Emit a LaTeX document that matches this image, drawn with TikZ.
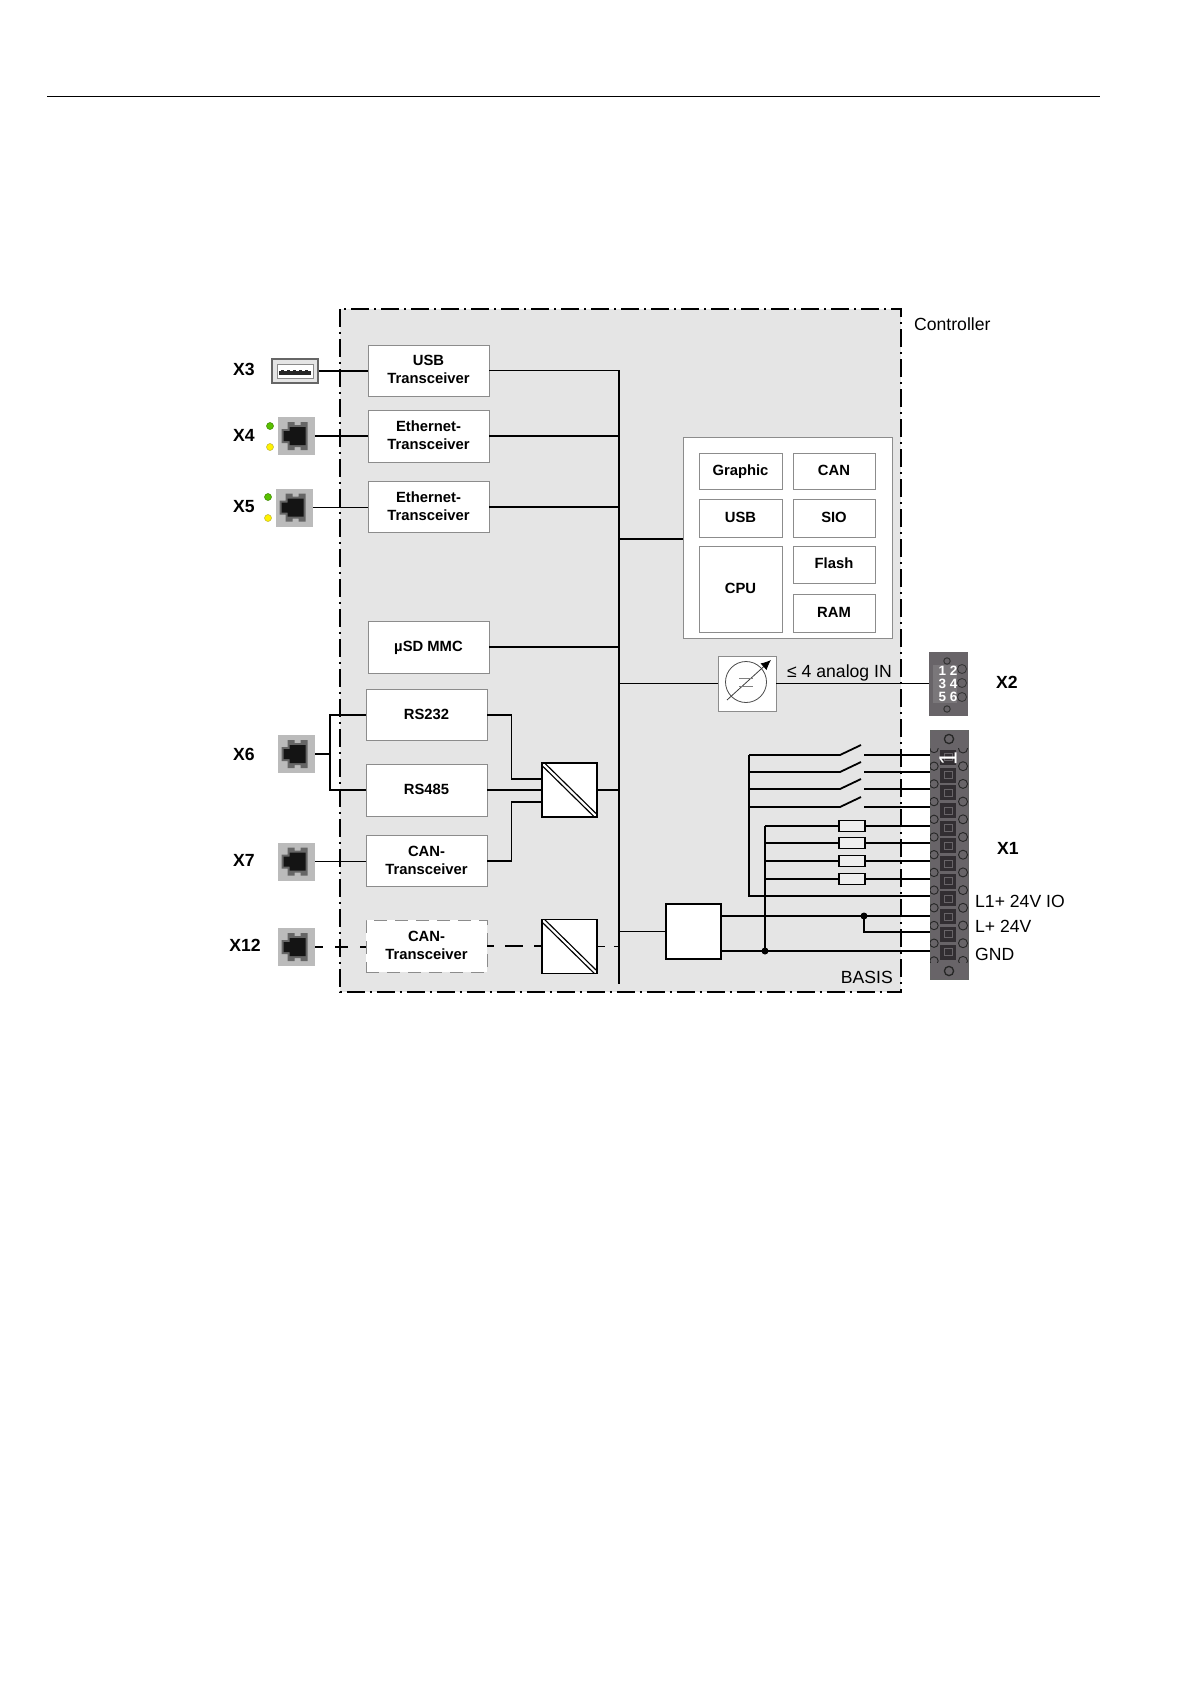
\documentclass[tikz,border=0pt]{standalone}
\usepackage{fontspec}
\setmainfont{Liberation Sans}
\usetikzlibrary{arrows.meta}
\definecolor{panel}{HTML}{E5E5E5}
\definecolor{edge}{HTML}{8C8C8C}
\definecolor{rjgray}{HTML}{BBBBBB}
\definecolor{plugedge}{HTML}{666666}
\definecolor{body}{HTML}{686468}
\definecolor{cell}{HTML}{322E32}
\newcommand{\bxfont}{\fontsize{14.8}{18}\selectfont\bfseries}
\newcommand{\lblfont}{\fontsize{17.6}{20}\selectfont\bfseries}
\newcommand{\txtfont}{\fontsize{17.6}{20}\selectfont}
\newcommand{\rjplug}[1]{%
  \begin{scope}[shift={(#1.center)}]
    \fill[plugedge]
      (-15,-7)--(-9,-7)--(-9,-14)--(-2,-14)--(-2,-11)--(4,-11)--(4,-14)--(11,-14)
      --(11,14)--(4,14)--(4,11)--(-2,11)--(-2,14)--(-9,14)--(-9,7)--(-15,7)--cycle;
    \fill[black!92]
      (-13,-5)--(-7,-5)--(-7,-9)--(9,-9)--(9,9)--(-7,9)--(-7,5)--(-13,5)--cycle;
  \end{scope}}
\tikzset{
  wire/.style={draw=black,line width=1.8pt},
  dwire/.style={draw=black,line width=1.6pt},
  bx/.style={draw=edge,fill=white,line width=0.9pt,inner sep=0pt,align=center,font=\bxfont},
  onel/.style={bx,text height=10.6pt,text depth=2.6pt},
  twol/.style={bx,text height=29pt,text depth=2.6pt},
  dbx/.style={twol,dash pattern=on 13pt off 8pt,draw=edge},
  conv/.style={draw=black,fill=white,line width=1.6pt,inner sep=0pt,minimum width=55pt,minimum height=54pt,
    path picture={\draw[black,line width=1.3pt,double=white,double distance=2.2pt]
      (path picture bounding box.north west) -- (path picture bounding box.south east);}},
  rj/.style={fill=rjgray,inner sep=0pt,minimum width=37pt,minimum height=38pt},
  lbl/.style={inner sep=0pt,font=\lblfont},
  txt/.style={inner sep=0pt,font=\txtfont},
  led/.style={circle,inner sep=0pt,minimum size=7pt,draw=#1!70!black,fill=#1,line width=0.5pt},
  fuse/.style={draw=black,fill=panel!60!white,line width=1.3pt,inner sep=0pt,minimum width=26pt,minimum height=11pt},
  jdot/.style={circle,fill=black,inner sep=0pt,minimum size=7pt},
}
\begin{document}
\begin{tikzpicture}[x=1pt,y=-1pt]
\useasboundingbox (0,0) rectangle (1191,1684);
\fill[white] (0,0) rectangle (1191,1684);
\coordinate (ruleL) at (47,96);
\coordinate (ruleR) at (1100,96);
\draw[black,line width=1pt] (ruleL) -- (ruleR);

% panel
\fill[panel] (339.5,309) rectangle (901,992);

% bus
\coordinate (bus) at (619,370);
\coordinate (busend) at (619,984);
\draw[wire] (bus) -- (busend);

% left column boxes
\node[twol,minimum width=121pt,minimum height=51pt] (usb) at (428.5,370.5) {USB\\Transceiver};
\node[twol,minimum width=121pt,minimum height=52pt] (eth1) at (428.5,436) {Ethernet-\\Transceiver};
\node[twol,minimum width=121pt,minimum height=51pt] (eth2) at (428.5,507) {Ethernet-\\Transceiver};
\node[onel,minimum width=121pt,minimum height=52pt] (sd) at (428.5,647) {µSD MMC};
\node[onel,minimum width=121pt,minimum height=51pt] (rs232) at (426.5,715) {RS232};
\node[onel,minimum width=121pt,minimum height=52pt] (rs485) at (426.5,790) {RS485};
\node[twol,minimum width=121pt,minimum height=51pt] (can) at (426.5,861) {CAN-\\Transceiver};
\node[dbx,minimum width=121pt,minimum height=52pt] (can2) at (426.5,946) {CAN-\\Transceiver};
\node[conv] (conv1) at (569.5,790) {};
\node[conv] (conv2) at (569.5,946.5) {};

% connector bodies left
\node[draw=plugedge,fill=panel,line width=2pt,inner sep=0pt,minimum width=46pt,minimum height=24pt] (x3) at (295,371) {};
\fill[white,draw=edge,line width=0.6pt] (277,364) rectangle (313,378);
\fill[black!85] (279,370.5) rectangle (311,374.5);
\foreach \xx in {281,287,293,299,305} {\fill[black!85] (\xx,369.5) rectangle ++(3,1.5);}
\node[rj] (x4) at (296.5,436) {}; \rjplug{x4}
\node[rj] (x5) at (294.5,507.5) {}; \rjplug{x5}
\node[rj] (x6) at (296.5,754) {}; \rjplug{x6}
\node[rj] (x7) at (296.5,861.5) {}; \rjplug{x7}
\node[rj] (x12) at (296.5,947) {}; \rjplug{x12}
\node[led=green!45!olive!90!yellow] (l1) at (270,426) {};
\node[led=yellow] (l2) at (270,447) {};
\node[led=green!45!olive!90!yellow] (l3) at (268,497) {};
\node[led=yellow] (l4) at (268,518) {};

% wires left
\draw[wire] (x3.east) -- (x3.east -| usb.west);
\draw[wire] (x4.east) -- (eth1.west);
\draw[wire] (x5.east) -- (x5.east -| eth2.west);
\coordinate (x6j) at (330,754);
\draw[wire] (x6.east) -- (x6j);
\draw[wire,line width=1.5pt] (rs232.west) -| (x6j) |- (rs485.west);
\draw[wire] (x7.east) -- (x7.east -| can.west);
\draw[dwire,dash pattern=on 13pt off 12pt,dash phase=5pt] (x12.east) -- (x12.east -| can2.west);
\draw[dwire,dash pattern=on 18pt off 11pt,dash phase=11pt] (can2.east) -- (can2.east -| conv2.west);
\draw[dwire,dash pattern=on 7pt off 9pt] (conv2.east) -- (conv2.east -| bus);

\draw[wire] (usb.east) -- (usb.east -| bus);
\draw[wire] (eth1.east) -- (eth1.east -| bus);
\draw[wire] (eth2.east) -- (eth2.east -| bus);
\draw[wire] (sd.east) -- (sd.east -| bus);
\coordinate (c1a) at (542,779);
\coordinate (c1c) at (542,802);
\draw[wire] (rs232.east) -- ++(24,0) |- (c1a);
\draw[wire] (rs485.east) -- (rs485.east -| conv1.west);
\draw[wire] (can.east) -- ++(24,0) |- (c1c);
\draw[wire] (conv1.east) -- (conv1.east -| bus);

% CPU block
\node[bx,minimum width=209pt,minimum height=201pt] (cpuframe) at (787.5,537.5) {};
\node[onel,minimum width=83pt,minimum height=36pt] (graphic) at (740.5,471) {Graphic};
\node[onel,minimum width=82pt,minimum height=36pt] (cancore) at (834,471) {CAN};
\node[onel,minimum width=83pt,minimum height=38pt] (usbcore) at (740.5,518) {USB};
\node[onel,minimum width=82pt,minimum height=38pt] (sio) at (834,518) {SIO};
\node[onel,minimum width=83pt,minimum height=86pt] (cpu) at (740.5,589) {CPU};
\node[onel,minimum width=82pt,minimum height=37pt] (flash) at (834,564.5) {Flash};
\node[onel,minimum width=82pt,minimum height=38pt] (ram) at (834,613) {RAM};
\coordinate (cpulink) at (683,539);
\draw[wire] (bus |- cpulink) -- (cpulink);

% analog
\node[bx,minimum width=58pt,minimum height=55pt] (analog) at (747,683.5) {};
\node[circle,draw=black!70,line width=0.8pt,inner sep=0pt,minimum size=41pt] (acirc) at (746,682) {};
\coordinate (aA) at (727,700);
\coordinate (aB) at (771,660);
\draw[black!75,line width=0.8pt,-{Latex[length=10pt,width=9pt,black]}] (aA) -- (aB);
\draw[black!50,line width=1pt] (739,678) -- (753,678) (739,686) -- (753,686);
\node[txt,anchor=west] (anaText) at (787,673) {≤ 4 analog IN};

% connector X2
\node[fill=body,inner sep=0pt,minimum width=39pt,minimum height=64pt] (x2) at (948.5,684) {};
\fill[body!88!white] (933,665) rectangle (957,703);
\foreach \yy in {669,683,697} {\draw[black!80,fill=body,line width=0.8pt] (962,\yy) circle (4.5);}
\draw[black!80,line width=1pt] (947,661) circle (3.2) (947,709) circle (3.2);
\node[inner sep=0pt,text=white,font=\fontsize{13.5}{15}\selectfont\bfseries] (p12) at (948,671) {1 2};
\node[inner sep=0pt,text=white,font=\fontsize{13.5}{15}\selectfont\bfseries] (p34) at (948,684) {3 4};
\node[inner sep=0pt,text=white,font=\fontsize{13.5}{15}\selectfont\bfseries] (p56) at (948,697) {5 6};
\draw[wire] (bus |- analog.west) -- (analog.west);
\draw[wire] (analog.east) -- (analog.east -| x2.west);

% connector X1
\node[fill=body,draw=black!60,line width=0.6pt,inner sep=0pt,minimum width=38pt,minimum height=249pt] (x1) at (949,854.5) {};
\begin{scope}
  \clip (930,748) rectangle (968,962);
  \foreach \k in {0,...,12} {
    \pgfmathsetmacro{\yy}{748.5+\k*17.7}
    \draw[black!85,line width=0.9pt] (934,\yy) circle (4.2);
    \draw[black!85,line width=0.9pt] (963,\yy) circle (4.5);
  }
\end{scope}
\foreach \k in {0,...,11} {
  \pgfmathsetmacro{\yy}{757.3+\k*17.7}
  \fill[cell] (940,{\yy-7.5}) rectangle (956,{\yy+7.5});
  \draw[body,line width=0.8pt] (944,{\yy-3.5}) rectangle (952,{\yy+3.5});
}
\draw[black!85,line width=1.3pt] (949,739) circle (4.6) (949,971) circle (4.6);
\node[inner sep=0pt,text=white,rotate=90,font=\fontsize{25}{25}\selectfont] (pin1) at (948,759) {1};

% power
\node[draw=black,fill=white,line width=1.6pt,inner sep=0pt,minimum width=55pt,minimum height=55pt] (pwr) at (693.5,931.5) {};
\draw[wire] (bus |- pwr.west) -- (pwr.west);
\coordinate (pL) at (721,916);
\coordinate (pR) at (721,951);
\node[jdot] (dotA) at (864,916) {};
\node[jdot] (dotB) at (765,951) {};
\coordinate (tL) at (930,916);
\coordinate (tLb) at (930,932);
\coordinate (tG) at (930,951);
\draw[wire] (pL) -- (tL);
\draw[wire] (pR) -- (tG);
\draw[wire] (dotA.center) |- (tLb);

% switches
\coordinate (swTop) at (749,755);
\coordinate (swBot) at (749,896);
\coordinate (tIO) at (930,896);
\draw[wire] (swTop) -- (swBot) -- (tIO);
\foreach \yy in {755,772,789,807} {
  \coordinate (sa) at (749,\yy);
  \coordinate (sb) at (840,\yy);
  \coordinate (sc) at (861,{\yy-10});
  \coordinate (sd2) at (864,\yy);
  \coordinate (se) at (930,\yy);
  \draw[wire] (sa) -- (sb) -- (sc);
  \draw[wire] (sd2) -- (se);
}
% fuses
\coordinate (fTop) at (765,826);
\draw[wire] (dotB.center) -- (fTop);
\foreach \yy [count=\i] in {826,843,861,879} {
  \node[fuse] (fu\i) at (852,\yy) {};
  \coordinate (fl\i) at (765,\yy);
  \coordinate (fr\i) at (930,\yy);
  \draw[wire] (fl\i) -- (fu\i.west);
  \draw[wire] (fu\i.east) -- (fr\i);
}

% controller border
\draw[black,line width=2pt,dash pattern=on 18pt off 5pt on 2pt off 5pt]
  (339.5,309) rectangle (901,992);

% labels
\node[lbl] (tx3) at (244,369) {X3};
\node[lbl] (tx4) at (244,435) {X4};
\node[lbl] (tx5) at (244,507) {X5};
\node[lbl] (tx6) at (244,754) {X6};
\node[lbl] (tx7) at (244,860) {X7};
\node[lbl] (tx12) at (245,945) {X12};
\node[lbl] (tx2) at (1007,682) {X2};
\node[lbl] (tx1) at (1008,848) {X1};
\node[txt,anchor=west] (tctrl) at (914,324) {Controller};
\node[txt,anchor=west] (tl1) at (975,901) {L1+ 24V IO};
\node[txt,anchor=west] (tl2) at (975,926) {L+ 24V};
\node[txt,anchor=west] (tgnd) at (975,954) {GND};
\node[txt,anchor=east] (tbasis) at (893,977) {BASIS};
\end{tikzpicture}
\end{document}
